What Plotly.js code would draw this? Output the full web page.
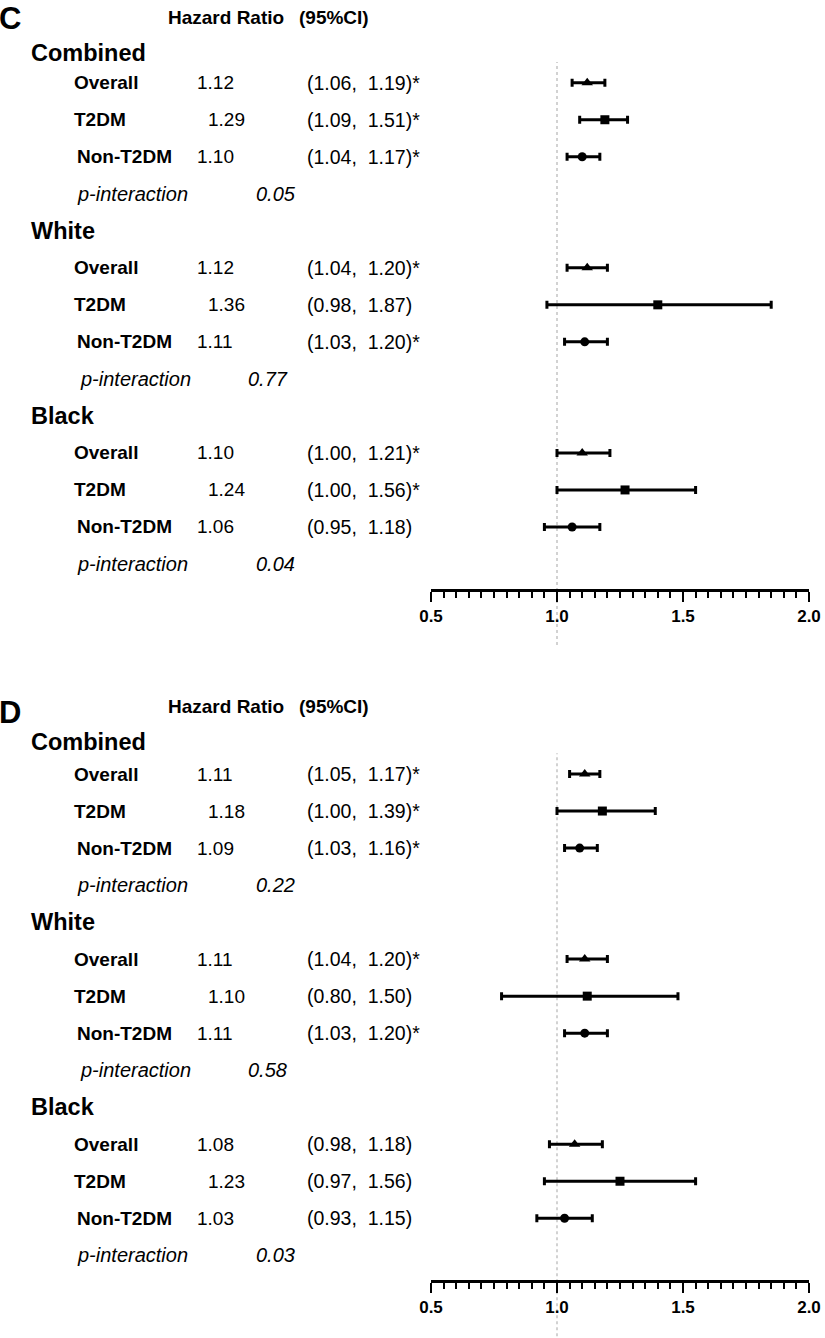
<!DOCTYPE html>
<html><head><meta charset="utf-8">
<script src="https://cdn.plot.ly/plotly-3.0.1.min.js"></script>
<style>html,body{margin:0;padding:0;background:#fff}</style>
</head><body><div id="chart" style="width:825px;height:1338px"></div>
<script>
// ---------- DATA ----------
const panels = ['C', 'D'];
const groups = ['Combined', 'White', 'Black'];
const subgroups = ['Overall', 'T2DM', 'Non-T2DM'];
const tickVals = [0.5, 1.0, 1.5, 2.0];

// Panel C: plotted hazard ratios and CI bounds (order: group x subgroup)
const C_hr = [1.12, 1.19, 1.10, 1.12, 1.40, 1.11, 1.10, 1.27, 1.06];
const C_lo = [1.06, 1.09, 1.04, 1.04, 0.96, 1.03, 1.00, 1.00, 0.95];
const C_hi = [1.19, 1.28, 1.17, 1.20, 1.85, 1.20, 1.21, 1.55, 1.17];
const C_hrText = ['1.12', '1.29', '1.10', '1.12', '1.36', '1.11', '1.10', '1.24', '1.06'];
const C_ciText = ['(1.06, 1.19)*', '(1.09, 1.51)*', '(1.04, 1.17)*', '(1.04, 1.20)*', '(0.98, 1.87)', '(1.03, 1.20)*', '(1.00, 1.21)*', '(1.00, 1.56)*', '(0.95, 1.18)'];
const C_pInt = ['0.05', '0.77', '0.04'];

// Panel D
const D_hr = [1.11, 1.18, 1.09, 1.11, 1.12, 1.11, 1.07, 1.25, 1.03];
const D_lo = [1.05, 1.00, 1.03, 1.04, 0.78, 1.03, 0.97, 0.95, 0.92];
const D_hi = [1.17, 1.39, 1.16, 1.20, 1.48, 1.20, 1.18, 1.55, 1.14];
const D_hrText = ['1.11', '1.18', '1.09', '1.11', '1.10', '1.11', '1.08', '1.23', '1.03'];
const D_ciText = ['(1.05, 1.17)*', '(1.00, 1.39)*', '(1.03, 1.16)*', '(1.04, 1.20)*', '(0.80, 1.50)', '(1.03, 1.20)*', '(0.98, 1.18)', '(0.97, 1.56)', '(0.93, 1.15)'];
const D_pInt = ['0.22', '0.58', '0.03'];

// ---------- LAYOUT HELPERS ----------
const W = 825, H = 1338;
const FONT = 'Liberation Sans, Arial, Helvetica, sans-serif';
const px = x => x / W;
const py = y => 1 - y / H;
const ROW = 37.02;                 // px per row
const panelTop = [0, 691.3];       // px top of each plot domain
const panelH = 589;
const row0 = 45.7;                 // px offset of row 0 from domain top
const yRange = [(panelH - row0) / ROW, (0 - row0) / ROW];

const symbols = ['triangle-up', 'square', 'circle'];
const msize = [10, 9, 9];

const data = [
  {hr: C_hr, lo: C_lo, hi: C_hi, hrT: C_hrText, ciT: C_ciText, p: C_pInt},
  {hr: D_hr, lo: D_lo, hi: D_hi, hrT: D_hrText, ciT: D_ciText, p: D_pInt}
];

// header positions in page px (letter, hazard header), and Combined row offset
const headerPx = [{letter: 19, hz: 17, comb: 0.2}, {letter: 713, hz: 706, comb: 0.13}];

const traces = [];
const annotations = [];
const shapes = [];
const layout = {
  width: W, height: H, margin: {l: 0, r: 0, t: 0, b: 0},
  paper_bgcolor: '#fff', plot_bgcolor: 'rgba(0,0,0,0)',
  showlegend: false, font: {family: FONT, color: '#000'}
};

function ann(text, x, y, yref, size, extra) {
  annotations.push(Object.assign({
    text, x: px(x), y, xref: 'paper', yref, xanchor: 'left', yanchor: 'middle',
    showarrow: false, borderpad: 0, font: {family: FONT, size, color: '#000'}
  }, extra || {}));
}

data.forEach((d, pi) => {
  const sfx = pi === 0 ? '' : '2';
  const xa = 'x' + sfx, ya = 'y' + sfx;
  const top = panelTop[pi];
  layout['yaxis' + sfx] = {
    domain: [py(top + panelH), py(top)], range: yRange, visible: false,
    fixedrange: true
  };
  layout['xaxis' + sfx] = {
    domain: [px(431), px(809)], range: [0.5, 2.0], anchor: ya,
    showline: true, linecolor: '#000', linewidth: 2.5, mirror: false,
    ticks: 'outside', ticklen: 10, tickwidth: 2.5, tickcolor: '#000',
    tickvals: tickVals, ticktext: tickVals.map(v => v.toFixed(1)),
    minor: {dtick: 0.05, tick0: 0.5, ticks: 'outside', ticklen: 6, tickwidth: 2, tickcolor: '#000', showgrid: false},
    showgrid: false, zeroline: false,
    tickfont: {family: FONT, size: 17, color: '#000', weight: 'bold'},
    fixedrange: true
  };

  // reference line at HR = 1
  shapes.push({
    type: 'line', xref: xa, yref: 'paper', x0: 1, x1: 1,
    y0: py(top + 645), y1: py(top + 62),
    line: {color: '#c4c4c4', width: 1.5, dash: 'dot'}, layer: 'below'
  });

  subgroups.forEach((sg, si) => {
    const idx = groups.map((g, gi) => gi * 3 + si);
    traces.push({
      type: 'scatter', mode: 'markers', xaxis: xa, yaxis: ya,
      x: idx.map(i => d.hr[i]),
      y: groups.map((g, gi) => gi * 5 + si + 1),
      marker: {symbol: symbols[si], size: msize[si], color: '#000'},
      error_x: {
        type: 'data', symmetric: false,
        array: idx.map(i => +(d.hi[i] - d.hr[i]).toFixed(3)),
        arrayminus: idx.map(i => +(d.hr[i] - d.lo[i]).toFixed(3)),
        color: '#000', thickness: 3, width: 4
      },
      hoverinfo: 'skip', cliponaxis: false
    });
  });

  // Text table
  const hp = headerPx[pi];
  ann('<b>' + panels[pi] + '</b>', -2, py(hp.letter), 'paper', 31);
  ann('<b>Hazard Ratio</b>', 167, py(hp.hz), 'paper', 19);
  ann('<b>(95%CI)</b>', 298, py(hp.hz), 'paper', 19);
  groups.forEach((g, gi) => {
    const base = gi * 5;
    ann('<b>' + g + '</b>', 30, gi === 0 ? hp.comb : base, ya, 23.5);
    subgroups.forEach((sg, si) => {
      const i = gi * 3 + si;
      const r = base + si + 1;
      ann('<b>' + sg + '</b>', si === 2 ? 76 : 73, r, ya, 19);
      ann(d.hrT[i], si === 1 ? 207 : 196, r, ya, 19);
      ann(d.ciT[i].replace(', ', ',\u00a0\u00a0'), 306, r, ya, 19.5);
    });
    ann('<i>p-interaction</i>', gi === 1 ? 79 : 76, base + 4, ya, 20);
    ann('<i>' + d.p[gi] + '</i>', gi === 1 ? 247 : 255, base + 4, ya, 20);
  });
});

layout.annotations = annotations;
layout.shapes = shapes;
Plotly.newPlot('chart', traces, layout, {displayModeBar: false, staticPlot: true});
</script>
</body></html>
